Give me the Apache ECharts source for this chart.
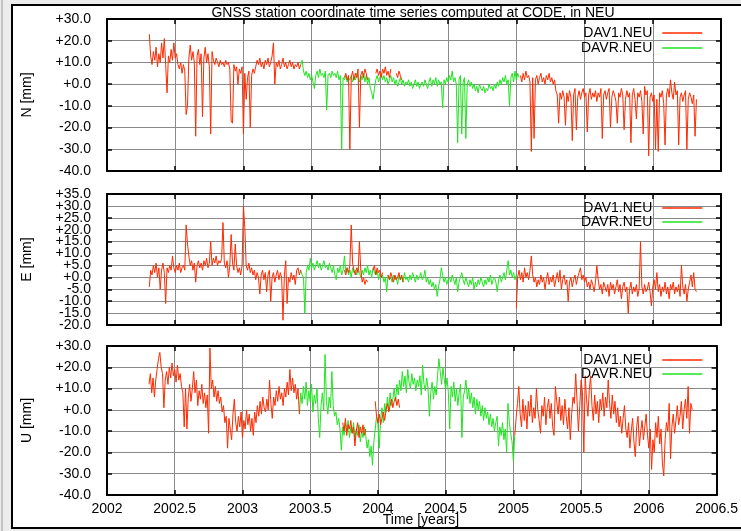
<!DOCTYPE html>
<html><head><meta charset="utf-8">
<script src="https://cdn.jsdelivr.net/npm/echarts@6/dist/echarts.min.js"></script>
<style>html,body{margin:0;padding:0;background:#fff}#c{width:741px;height:531px}</style>
</head><body><div id="c"></div>
<script>
// ---------- data (values in mm, one sample every STEP years) ----------
const STEP = 0.01;
const X_TICK_START = 2002, X_TICK_END = 2006.5, X_TICK_STEP = 0.5;
const SERIES_NAMES = ['DAV1.NEU', 'DAVR.NEU'];

// North
const N_DAV1_A_START = 2002.31;
const N_DAV1_A = [23,13,9,15,11,17,8,14,10,19, 12,21,9,-4,13,10,16,11,19,12, 14,9,7,10,5,9,6,-14,-10,12,
  18,11,15,10,-24,13,16,9,14,-15, 12,17,10,14,8,-23,15,11,9,12, 10,8,11,9,10,8,11,9,10,7,
  -17,-18,9,6,8,0,7,5,8,-23, 5,-7,3,6,-20,4,7,5,8,11, 9,12,8,10,7,11,9,12,8,10,
  13,19,0,10,8,11,7,9,12,8, 10,7,9,11,8,10,7,9,8,10, 7,9];
const N_DAVR_START = 2003.42;
const N_DAVR = [9,11,6,4,6,3,5,2,4,1, -2,4,6,3,7,4,5,3,6,-12, 4,5,3,6,4,5,3,6,2,4,
  -30,3,2,4,1,3,2,4,1,3, 2,5,3,1,4,2,5,1,4,0, 3,-2,-4,-7,-2,2,4,1,3,5,
  2,4,1,3,0,2,4,1,3,0, 2,-1,1,3,0,2,-1,1,0,2, -1,1,-2,0,2,-1,1,-2,0,1,
  -1,2,0,-2,1,3,-1,2,0,3, -1,2,0,1,-11,2,0,3,1,4, 2,6,1,3,0,-27,2,4,-23,1,
  3,-25,0,2,-1,1,-2,0,-3,-1, -4,0,-2,-3,-1,-4,-2,-3,0,-2, -1,-3,0,-2,1,-1,2,0,3,1,
  4,0,2,-10,3,5,1,6,2,5, 3];
const N_DAV1_B_START = 2003.74;
const N_DAV1_B = [3,5,2,4,-30,3,6,2,5,3,7,-20,4,6,3,7,5,2];
const N_DAV1_C_START = 2003.97;
const N_DAV1_C = [5,7,4,6,3,7,5,8,4,6,3,7];
const N_DAV1_D_START = 2004.12;
const N_DAV1_D = [5,3,6,4,2];
const N_DAV1_E_START = 2005.03;
const N_DAV1_E = [4,1,5,2,6,3,4,1,-31,3, -25,2,4,0,3,5,1,3,0,4, 2,5,1,3,0,2,-3,-5,-18,-4,
  -7,-3,-6,-19,-4,-8,-3,-6,-26,-5, -2,-21,-6,-3,-7,-4,-2,-6,-4,-22, -5,-2,-7,-4,-6,-3,-8,-4,-6,-2,
  -25,-5,-3,-7,-4,-2,-20,-6,-3,-5, -8,-18,-4,-6,-2,-5,-21,-7,-3,-6, -4,-27,-5,-2,-7,-16,-4,-6,-3,-8,
  -23,-1,-5,-3,-33,-6,-4,-8,-5,-30, -7,-31,-4,-6,-3,-9,-28,-5,-2,-6, 2,-4,-7,1,-5,-3,-28,-6,-4,-8,
  -5,-3,-30,-7,-4,-6,-9,-5,-24,-7];

// East
const E_DAV1_A_START = 2002.31;
const E_DAV1_A = [-4,3,1,5,2,6,0,4,-5,3, 6,2,-11,4,2,5,3,9,4,2, 5,3,6,2,4,5,3,22,14,9,
  5,7,3,6,-2,5,7,4,6,3, 7,5,8,4,6,15,5,8,6,9, 5,7,6,8,23,6,4,7,0,5,
  18,6,3,14,5,2,4,1,5,30, 21,5,3,6,2,4,1,3,-1,2, 0,-7,1,3,-1,2,-6,1,3,-10,
  0,2,-2,1,3,-1,2,0,-18,1, 7,-11,0,-2,2,-1,1,-3,3,4, 1,3];
const E_DAVR_START = 2003.42;
const E_DAVR = [3,1,0,-15,2,5,3,8,4,6, 3,5,7,4,6,3,5,7,4,5, 3,6,4,2,5,1,-1,4,2,5,
  1,3,9,2,4,1,3,0,4,2, 3,1,4,2,0,3,1,4,2,5, 1,3,0,4,2,1,3,-1,2,0,
  1,-2,0,-6,1,-1,0,-2,1,-1, 0,-3,1,-1,0,-2,2,-1,0,-2, 1,-1,2,0,-2,1,-1,0,2,-1,
  0,3,-2,0,-3,-1,-4,-2,-5,-3, -8,-4,-1,4,1,-2,0,-3,-1,0, -2,1,-1,-3,0,-6,-2,0,2,-1,
  -3,0,-2,-4,-1,-3,0,-5,-2,-4, -1,-3,0,-2,-4,-1,-3,0,-2,1, -3,-1,0,-2,-6,-1,1,-2,0,2,
  -1,3,7,1,3,0,2,-1,1];
const E_DAV1_B_START = 2003.74;
const E_DAV1_B = [3,1,4,2,5,22,6,3,1,4,2,15,3,-2,0,-3,-1,-2];
const E_DAV1_C_START = 2003.95;
const E_DAV1_C = [3,5,1,4,2,3,0,2];
const E_DAV1_D_START = 2004.06;
const E_DAV1_D = [1,-1,2,0,-2,1,-1,0,2,-1,1,-2];
const E_DAV1_E_START = 2005.00;
const E_DAV1_E = [-13,0,3,-1,2,-2,4,0,2,-1, 3,9,1,-2,0,-4,-1,-3,1,-2, 0,-5,-1,2,-3,0,-2,1,-4,-1,
  2,-2,3,-5,-1,1,-3,-1,-10,-2, 0,-4,-1,1,-3,0,2,4,-1,1, -2,0,-4,-2,-5,-1,-3,-6,-2,5,
  -1,-5,-3,-7,-2,-4,-6,-3,-8,-2, -5,-3,-7,-4,-1,-6,-3,-9,-4,-2, -6,-4,-15,-5,-2,-7,-4,-6,-3,-8,
  -5,15,-4,-7,-3,-6,-5,-2,-6,-12, -4,-1,-5,2,-6,-3,-8,-4,-6,-2, -7,-4,-9,-3,-5,-2,-7,-4,-6,-3,
  -8,5,-4,-7,-3,-10,-5,-2,1,-4, 2,-5,-6];

// Up
const U_DAV1_A_START = 2002.31;
const U_DAV1_A = [12,17,8,15,6,14,19,24,27,20, 17,1,14,18,12,20,15,22,16,19, 13,21,14,17,11,8,-8,10,-9,6,
  12,4,10,18,8,14,2,9,5,12, 3,8,1,7,-11,29,10,14,6,11, 4,9,3,6,-1,2,-6,-3,-18,-4,
  -9,-14,-2,5,-6,-10,-3,-8,-1,-13, -5,-9,0,-7,-2,-10,-4,-12,-1,-6, 2,-3,4,-2,6,1,-1,5,0,14,
  3,-4,6,2,9,4,11,5,8,2, 10,6,13,7,19,9,15,8,12,5, 10,-2];
const U_DAVR_START = 2003.42;
const U_DAVR = [-2,8,3,11,5,13,2,9,4,12, -1,7,3,10,-4,-13,2,8,0,26, 4,-2,6,1,18,2,-3,-1,-7,-4,
  -9,-19,-8,-12,-6,-10,-5,-13,-8,-11, -6,-14,-9,-12,-7,-15,-10,-13,-8,-12, -18,-14,-22,-17,-26,-15,-9,-3,-7,-18,
  -4,1,-6,3,-1,6,0,8,2,5, 10,4,12,7,14,9,18,11,16,8, 19,13,10,17,12,15,9,14,11,16,
  7,21,12,9,15,10,-3,8,13,5, 11,7,16,24,18,12,20,14,10,15, 8,-9,11,6,13,4,10,2,8,12,
  -13,6,9,14,5,10,3,8,1,6, -2,5,0,4,-3,2,-5,1,-4,-1, -7,-2,-8,-4,-10,-6,-3,-17,-8,-12,
  -6,-14,-9,-20,3,-6,-11,-15,-24,-12];
const U_DAV1_B_START = 2003.74;
const U_DAV1_B = [-6,-10,-4,-12,-7,-9,-5,-11,-8,-17,-10,-6,-13,-8,-11,-7,-12,-9];
const U_DAV1_C_START = 2003.98;
const U_DAV1_C = [4,-3,-6,-2,-7,-4,-1,-5,0,3,-1,2,5,1,4,6,2,5,1];
const U_DAV1_E_START = 2005.01;
const U_DAV1_E = [-12,-4,3,11,-2,-8,5,-5,2,-9, 4,-3,7,-6,1,-4,10,0,-5,-11, 2,-3,6,-7,1,5,-4,3,-8,-12,
  11,4,-2,6,-5,2,-7,5,-3,-9, 1,-14,-2,6,3,17,4,-10,2,14, 8,-20,16,5,-3,9,16,2,-5,7,
  -2,4,-6,5,0,8,-3,6,1,14, 3,-4,7,-2,4,-6,1,-8,-3,-11, -4,2,-9,-13,-6,-18,-10,-4,-15,-22,
  -8,-3,-17,-10,-5,-14,-8,-2,-12,-18, -9,-28,-14,-20,-6,-13,-3,-16,-9,-25, -31,-14,-6,-10,3,-23,-8,-2,-11,-5,
  2,-7,-3,4,-9,0,5,-4,11,-11, 3,0];

// ---------- chart ----------
const RED = '#ff2a00', GREEN = '#1fe51f';
const FONT = 'Liberation Sans, Arial, sans-serif';
function seg(start, vals) { return vals.map((v, i) => [start + i * STEP, v]); }
const fmtY = v => (v >= 0 ? '+' : '') + v.toFixed(1);

const panels = [
  { label: 'N [mm]', min: -40, max: 30, interval: 10, top: 19, height: 152, legendTop: 26, legendGap: 1,
    red: [[N_DAV1_A_START, N_DAV1_A], [N_DAV1_B_START, N_DAV1_B], [N_DAV1_C_START, N_DAV1_C], [N_DAV1_D_START, N_DAV1_D], [N_DAV1_E_START, N_DAV1_E]],
    green: [[N_DAVR_START, N_DAVR]] },
  { label: 'E [mm]', min: -20, max: 35, interval: 5, top: 194, height: 131, legendTop: 201, legendGap: 0,
    red: [[E_DAV1_A_START, E_DAV1_A], [E_DAV1_B_START, E_DAV1_B], [E_DAV1_C_START, E_DAV1_C], [E_DAV1_D_START, E_DAV1_D], [E_DAV1_E_START, E_DAV1_E]],
    green: [[E_DAVR_START, E_DAVR]] },
  { label: 'U [mm]', min: -40, max: 30, interval: 10, top: 346, height: 149, legendTop: 353, legendGap: 0,
    red: [[U_DAV1_A_START, U_DAV1_A], [U_DAV1_B_START, U_DAV1_B], [U_DAV1_C_START, U_DAV1_C], [U_DAV1_E_START, U_DAV1_E]],
    green: [[U_DAVR_START, U_DAVR]] }
];

const grid = [], xAxis = [], yAxis = [], series = [], legend = [];
const axisLine = { show: true, onZero: false, lineStyle: { color: '#000', width: 2 } };
const axisTick = { show: true, inside: true, length: 5, lineStyle: { color: '#000', width: 1.5 } };
const split = { show: true, lineStyle: { color: '#8a8a8a', width: 1 } };
const labelBase = { color: '#000', fontSize: 14, fontFamily: FONT, margin: 16 };

panels.forEach((p, k) => {
  grid.push({ left: 107, top: p.top, width: 614, height: p.height, containLabel: false });
  const xBase = { type: 'value', gridIndex: k, min: X_TICK_START, max: X_TICK_END, interval: X_TICK_STEP,
    axisLine, axisTick };
  xAxis.push(Object.assign({}, xBase, { position: 'bottom', splitLine: split,
    axisLabel: { show: k === 2, color: '#000', fontSize: 14, fontFamily: FONT, margin: 7,
      showMinLabel: true, showMaxLabel: true, formatter: v => String(v) } }));
  xAxis.push(Object.assign({}, xBase, { position: 'top', splitLine: { show: false }, axisLabel: { show: false } }));
  const yBase = { type: 'value', gridIndex: k, min: p.min, max: p.max, interval: p.interval, axisLine, axisTick };
  yAxis.push(Object.assign({}, yBase, { position: 'left', splitLine: split,
    name: p.label, nameLocation: 'middle', nameGap: 73, nameRotate: 90,
    nameTextStyle: { color: '#000', fontSize: 14, fontFamily: FONT },
    axisLabel: Object.assign({}, labelBase, { showMinLabel: true, showMaxLabel: true, hideOverlap: false, formatter: fmtY }) }));
  yAxis.push(Object.assign({}, yBase, { position: 'right', splitLine: { show: false }, axisLabel: { show: false } }));

  p.green.forEach(([s, vals]) => series.push({ type: 'line', name: SERIES_NAMES[1], xAxisIndex: 2 * k, yAxisIndex: 2 * k,
    data: seg(s, vals), symbol: 'none', lineStyle: { color: GREEN, width: 1 }, itemStyle: { color: GREEN }, z: 2 }));
  p.red.forEach(([s, vals]) => series.push({ type: 'line', name: SERIES_NAMES[0], xAxisIndex: 2 * k, yAxisIndex: 2 * k,
    data: seg(s, vals), symbol: 'none', lineStyle: { color: RED, width: 1 }, itemStyle: { color: RED }, z: 3 }));

  legend.push({ data: SERIES_NAMES, orient: 'vertical', right: 38, top: p.legendTop, align: 'right',
    itemWidth: 40, itemHeight: 14, itemGap: p.legendGap, padding: 0, selectedMode: false,
    itemStyle: { opacity: 0 }, lineStyle: { width: 1.5 },
    textStyle: { color: '#000', fontSize: 14, fontFamily: FONT, lineHeight: 14, padding: [0, 5, 0, 0] } });
});

// E panel: the tightly spaced labels next to the end labels are drawn by a label-only twin axis
const pE = panels[1];
yAxis.push({ type: 'value', gridIndex: 1, min: pE.min, max: pE.max, interval: pE.interval, position: 'left',
  axisLine: { show: false }, axisTick: { show: false }, splitLine: { show: false },
  axisLabel: Object.assign({}, labelBase, { showMinLabel: false, showMaxLabel: false, hideOverlap: false,
    formatter: v => (v === pE.max - pE.interval || v === pE.min + pE.interval) ? fmtY(v) : '' }) });

const chart = echarts.init(document.getElementById('c'), null, { renderer: 'canvas' });
chart.setOption({
  animation: false,
  backgroundColor: '#ececec',
  graphic: [
    { type: 'rect', z: -100, shape: { x: 12, y: 5, width: 740, height: 523 }, style: { fill: '#fff', stroke: '#000', lineWidth: 2 } },
    { type: 'line', z: -100, shape: { x1: 2, y1: 0, x2: 2, y2: 531 }, style: { stroke: '#999', lineWidth: 1 } },
    { type: 'text', z: 10, style: { text: 'GNSS station coordinate time series computed at CODE, in NEU', x: 413, y: 13,
      textAlign: 'center', textVerticalAlign: 'middle', font: '14px ' + FONT, fill: '#000' } },
    { type: 'text', z: 10, style: { text: 'Time [years]', x: 421, y: 520,
      textAlign: 'center', textVerticalAlign: 'middle', font: '14px ' + FONT, fill: '#000' } }
  ],
  grid, xAxis, yAxis, series, legend
});
</script></body></html>
